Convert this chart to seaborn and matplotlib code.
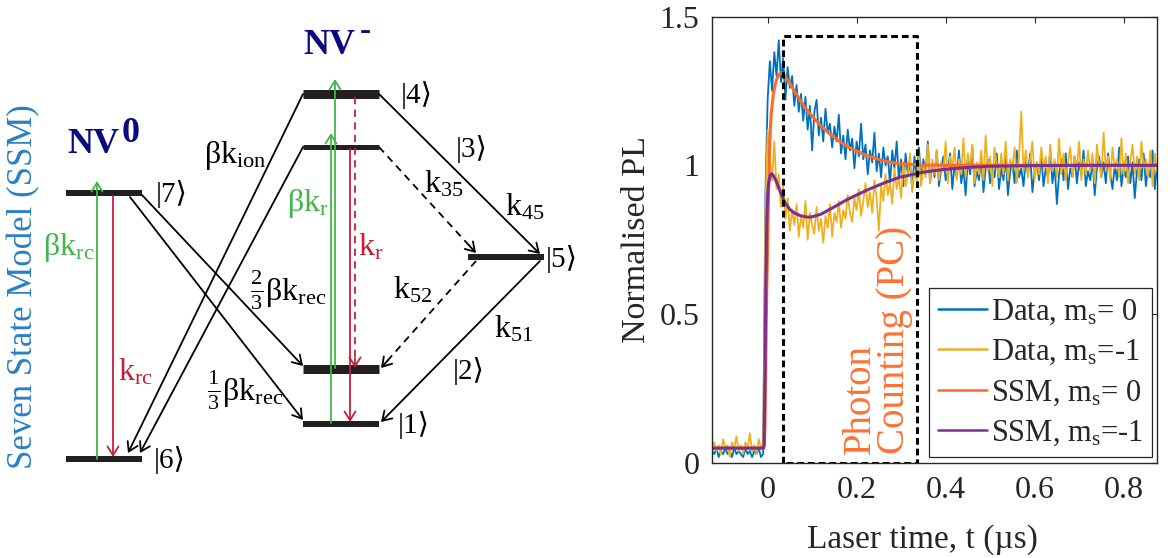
import numpy as np
import pandas as pd
import matplotlib
matplotlib.use("Agg")
import matplotlib.pyplot as plt
import seaborn as sns

# ---------------------------------------------------------------- data
# measured PL traces (sampled every 5 ns from -0.125 us to 0.875 us)
t_start, t_end = -0.125, 0.875
pl_data_ms0 = [
    0.04, 0.03, 0.05, 0.02, 0.04, 0.03, 0.05, 0.03, 0.04, 0.02,
    0.05, 0.03, 0.04, 0.03, 0.02, 0.05, 0.03, 0.04, 0.02, 0.04,
    0.03, 0.05, 0.02, 0.03, 0.90, 1.22, 1.35, 1.25, 1.38, 1.30,
    1.42, 1.28, 1.36, 1.22, 1.33, 1.26, 1.30, 1.20, 1.27, 1.18,
    1.24, 1.15, 1.23, 1.12, 1.20, 1.05, 1.18, 1.22, 1.10, 1.16,
    1.08, 1.19, 1.11, 1.14, 1.06, 1.13, 1.08, 1.17, 1.04, 1.10,
    1.02, 1.12, 1.05, 1.09, 0.99, 1.08, 1.03, 1.14, 1.02, 1.07,
    0.97, 1.05, 1.01, 1.11, 0.98, 1.04, 0.96, 1.06, 1.00, 1.03,
    0.94, 1.05, 0.99, 1.08, 0.95, 1.02, 0.93, 1.04, 0.97, 1.01,
    0.92, 1.03, 0.96, 1.06, 0.95, 1.02, 0.97, 1.08, 0.94, 1.01,
    0.96, 1.05, 0.93, 0.99, 1.03, 0.95, 0.98, 1.04, 0.92, 1.00,
    0.96, 1.05, 0.94, 0.99, 0.90, 1.02, 0.97, 1.06, 0.93, 0.98,
    0.95, 1.03, 0.91, 0.99, 1.02, 0.94, 1.00, 0.96, 1.04, 0.92,
    0.99, 0.95, 1.03, 0.90, 0.98, 1.01, 0.94, 1.05, 0.96, 0.99,
    0.93, 1.02, 0.97, 1.04, 0.91, 0.98, 1.01, 0.95, 1.03, 0.93,
    0.99, 0.96, 1.05, 0.94, 1.00, 0.87, 0.97, 1.02, 0.95, 1.04,
    0.92, 0.99, 0.96, 1.03, 0.94, 1.01, 0.97, 1.05, 0.93, 0.98,
    0.95, 1.02, 0.90, 0.99, 1.03, 0.96, 1.01, 0.94, 1.04, 0.97,
    0.92, 1.00, 0.95, 1.06, 0.93, 0.99, 0.96, 1.03, 0.94, 1.01,
    0.89, 0.98, 1.02, 0.95, 1.04, 0.93, 0.99, 0.96, 1.05, 0.92,
    1.00,
]
pl_data_ms1 = [
    0.05, 0.07, 0.04, 0.06, 0.03, 0.08, 0.05, 0.06, 0.02, 0.07,
    0.05, 0.09, 0.04, 0.06, 0.03, 0.07, 0.05, 0.10, 0.04, 0.06,
    0.03, 0.08, 0.05, 0.06, 0.85, 1.12, 1.02, 0.95, 1.08, 0.92,
    0.97, 0.86, 0.93, 0.82, 0.89, 0.78, 0.85, 0.80, 0.87, 0.76,
    0.83, 0.79, 0.88, 0.75, 0.84, 0.80, 0.77, 0.86, 0.78, 0.82,
    0.74, 0.83, 0.79, 0.87, 0.76, 0.84, 0.81, 0.88, 0.79, 0.85,
    0.82, 0.90, 0.84, 0.81, 0.89, 0.85, 0.92, 0.83, 0.88, 0.94,
    0.86, 0.91, 0.84, 0.95, 0.89, 0.78, 0.93, 0.88, 0.97, 0.90,
    0.94, 0.87, 0.99, 0.92, 0.96, 0.89, 1.01, 0.93, 0.97, 1.04,
    0.91, 0.98, 0.95, 1.03, 0.93, 1.00, 0.96, 1.07, 0.94, 1.02,
    0.97, 1.05, 0.95, 1.01, 0.98, 1.08, 0.94, 1.03, 0.99, 1.06,
    0.95, 1.02, 0.97, 1.09, 0.96, 1.04, 0.99, 1.07, 0.94, 1.01,
    0.97, 1.05, 0.95, 1.10, 0.98, 1.03, 0.93, 1.06, 1.00, 0.96,
    1.04, 0.97, 1.08, 0.95, 1.02, 0.99, 1.06, 0.94, 1.03, 1.18,
    0.98, 1.05, 0.96, 1.02, 1.08, 0.95, 1.01, 0.97, 1.06, 0.99,
    1.03, 0.94, 1.07, 0.98, 1.02, 0.96, 1.09, 0.97, 1.04, 0.95,
    1.01, 1.06, 0.96, 1.03, 0.99, 1.08, 0.95, 1.02, 0.97, 1.05,
    0.98, 1.04, 0.94, 1.07, 1.00, 0.96, 1.11, 0.98, 1.03, 0.95,
    1.06, 0.99, 1.02, 0.96, 1.09, 0.97, 1.04, 0.94, 1.01, 1.07,
    0.97, 1.03, 0.95, 1.08, 0.99, 1.02, 0.96, 1.05, 0.93, 1.04,
    0.98,
]
# seven state model curves
t_ssm = [-0.125, -0.010, -0.008, -0.006, -0.004, -0.002, 0.000, 0.002, 0.004,
         0.006, 0.008, 0.010, 0.013, 0.016, 0.020, 0.025, 0.030, 0.035, 0.040,
         0.050, 0.060, 0.075, 0.090, 0.100, 0.120, 0.147, 0.180, 0.222, 0.260,
         0.297, 0.350, 0.394, 0.450, 0.500, 0.600, 0.700, 0.875]
pl_ssm_ms0 = [0.05, 0.05, 0.05, 0.12, 0.35, 0.58, 0.72, 0.90, 1.04,
              1.12, 1.17, 1.20, 1.24, 1.265, 1.288, 1.305, 1.312, 1.308, 1.298,
              1.275, 1.250, 1.214, 1.183, 1.165, 1.132, 1.096, 1.062, 1.033, 1.015,
              1.005, 1.001, 1.000, 1.000, 1.000, 1.000, 1.000, 1.000]
pl_ssm_ms1 = [0.05, 0.05, 0.06, 0.30, 0.60, 0.80, 0.90, 0.935, 0.955,
              0.967, 0.972, 0.971, 0.965, 0.957, 0.944, 0.925, 0.905, 0.888, 0.872,
              0.852, 0.840, 0.830, 0.826, 0.827, 0.836, 0.858, 0.886, 0.916, 0.940,
              0.960, 0.977, 0.986, 0.993, 0.997, 0.999, 1.000, 1.000]
series_labels = ["Data, m$_\\mathrm{s}$= 0", "Data, m$_\\mathrm{s}$=-1",
                 "SSM, m$_\\mathrm{s}$= 0", "SSM, m$_\\mathrm{s}$=-1"]
series_colors = ["#0072BD", "#EDB120", "#FF6A2B", "#7E2F8E"]
x_ticks = [0, 0.2, 0.4, 0.6, 0.8]
x_ticklabels = ["0", "0.2", "0.4", "0.6", "0.8"]
y_ticks = [0, 0.5, 1, 1.5]
y_ticklabels = ["0", "0.5", "1", "1.5"]
pc_window = [0.035, 0.335]
pc_top = 1.435

# energy-level diagram (coordinates in pixels of the left panel)
level_names = ["|1⟩", "|2⟩", "|3⟩", "|4⟩", "|5⟩", "|6⟩", "|7⟩"]
level_x0 = [303, 303, 303, 303, 468, 66, 66]
level_x1 = [379, 379, 379, 379, 544, 142, 142]
level_y = [424, 369, 147, 94, 257, 459, 193]
level_thick = [6, 9, 5, 9, 6, 6, 6]
level_label_xy = [(414, 425), (469, 371), (472, 149), (417, 95), (562, 259), (170, 460), (172, 194)]
# transitions: (x0, y0, x1, y1, colour key, dashed)
transitions = [
    (97, 459, 97, 181, "g", False),
    (113, 196, 113, 457, "r", False),
    (331, 423, 331, 133, "g", False),
    (335, 368, 335, 79, "g", False),
    (350, 149, 350, 422, "r", False),
    (355, 97, 355, 368, "r", True),
    (303, 94, 128, 453, "k", False),
    (303, 147, 140, 453, "k", False),
    (142, 195, 303, 366, "k", False),
    (130, 197, 303, 420, "k", False),
    (379, 94, 540, 254, "k", False),
    (379, 147, 476, 253, "k", True),
    (476, 261, 381, 368, "k", True),
    (540, 261, 381, 422, "k", False),
]
rate_labels = [
    (69, 247, "$\\mathrm{βk_{rc}}$", "g"),
    (135, 372, "$\\mathrm{k_{rc}}$", "r"),
    (308, 204, "$\\mathrm{βk_{r}}$", "g"),
    (371, 247, "$\\mathrm{k_{r}}$", "r"),
    (235, 155, "$\\mathrm{βk_{ion}}$", "k"),
    (288, 290, "$\\frac{2}{3}\\mathrm{βk_{rec}}$", "k"),
    (245, 390, "$\\frac{1}{3}\\mathrm{βk_{rec}}$", "k"),
    (444, 184, "$\\mathrm{k_{35}}$", "k"),
    (525, 207, "$\\mathrm{k_{45}}$", "k"),
    (413, 290, "$\\mathrm{k_{52}}$", "k"),
    (514, 329, "$\\mathrm{k_{51}}$", "k"),
]
# charge-state titles: (text, x_left, baseline, superscript, sup_x, sup_baseline)
charge_titles = [("NV", 67, 153, "0", 122, 142), ("NV", 303, 54, "-", 360, 40)]

# ---------------------------------------------------------------- style
sns.set_theme(style="white")
plt.rcParams["font.family"] = ["Liberation Serif", "DejaVu Sans"]
plt.rcParams["mathtext.fontset"] = "custom"
plt.rcParams["mathtext.rm"] = "Liberation Serif"
plt.rcParams["mathtext.it"] = "Liberation Serif:italic"
plt.rcParams["mathtext.bf"] = "Liberation Serif:bold"

W, H = 1171, 558
fig = plt.figure(figsize=(W / 100, H / 100), dpi=100)
fig.patch.set_facecolor("white")

# ---------------------------------------------------------------- left: diagram
axd = fig.add_axes([0, 0, 600 / W, 1])
axd.set_xlim(0, 600)
axd.set_ylim(H, 0)
axd.axis("off")
cmap = {"g": "#41b649", "r": "#c61f38", "k": "black"}

for x0, x1, y, th in zip(level_x0, level_x1, level_y, level_thick):
    axd.plot([x0, x1], [y, y], color="#231f20", lw=th * 0.72, solid_capstyle="butt", zorder=3)
for name, (lx, ly) in zip(level_names, level_label_xy):
    axd.text(lx, ly, name, fontsize=21, ha="center", va="center", color="black")

head = "->,head_length=0.32,head_width=0.2"
for x0, y0, x1, y1, c, dashed in transitions:
    col = cmap[c]
    if dashed:
        L = np.hypot(x1 - x0, y1 - y0)
        ux, uy = (x1 - x0) / L, (y1 - y0) / L
        axd.plot([x0, x1 - ux * 3], [y0, y1 - uy * 3], color=col, lw=1.3, ls=(0, (4, 3)), zorder=4)
        axd.annotate("", xy=(x1, y1), xytext=(x1 - ux * 10, y1 - uy * 10),
                     arrowprops=dict(arrowstyle=head, color=col, lw=1.3,
                                     mutation_scale=20, shrinkA=0, shrinkB=0), zorder=4)
    else:
        axd.annotate("", xy=(x1, y1), xytext=(x0, y0),
                     arrowprops=dict(arrowstyle=head, color=col, lw=1.3,
                                     mutation_scale=20, shrinkA=0, shrinkB=0), zorder=4)

for lx, ly, txt, c in rate_labels:
    axd.text(lx, ly, txt, fontsize=23, ha="center", va="center", color=cmap[c])

navy = "#0a0a80"
for txt, tx, tb, sup, sx, sb in charge_titles:
    axd.text(tx, tb, txt, fontsize=26, fontweight="bold", color=navy,
             ha="left", va="baseline")
    axd.text(sx, sb, sup, fontsize=26 if sup == "0" else 24, fontweight="bold", color=navy,
             ha="left", va="baseline")
axd.text(24, 287, "Seven State Model (SSM)", fontsize=25, rotation=90, color="#2a80c6",
         ha="center", va="center")

# ---------------------------------------------------------------- right: PL traces
ax = fig.add_axes([712 / W, 1 - 463 / H, 445 / W, 446.5 / H])
n = len(pl_data_ms0)
t_data = np.round(np.linspace(t_start, t_end, n), 4)
df = pd.DataFrame({"t": t_data, "ms0": pl_data_ms0, "ms1": pl_data_ms1})
dm = pd.DataFrame({"t": t_ssm, "ms0": pl_ssm_ms0, "ms1": pl_ssm_ms1})

sns.lineplot(data=df, x="t", y="ms0", ax=ax, color=series_colors[0], lw=1.3,
             estimator=None, label=series_labels[0])
sns.lineplot(data=df, x="t", y="ms1", ax=ax, color=series_colors[1], lw=1.3,
             estimator=None, label=series_labels[1])
sns.lineplot(data=dm, x="t", y="ms0", ax=ax, color=series_colors[2], lw=2.2,
             estimator=None, label=series_labels[2])
sns.lineplot(data=dm, x="t", y="ms1", ax=ax, color=series_colors[3], lw=2.2,
             estimator=None, label=series_labels[3])

# photon counting window
ax.plot([pc_window[0], pc_window[0], pc_window[1], pc_window[1], pc_window[0]],
        [0, pc_top, pc_top, 0, 0], color="black", lw=2.2, ls=(0, (2.2, 1.3)), zorder=5)
ax.text(0.247, 0.03, "Photon\nCounting (PC)", rotation=90, ha="center", va="bottom",
        multialignment="left", fontsize=28, color="#FF7033", linespacing=0.92, zorder=6)

ax.set_xlim(-0.125, 0.875)
ax.set_ylim(0, 1.5)
ax.set_xticks(x_ticks)
ax.set_xticklabels(x_ticklabels)
ax.set_yticks(y_ticks)
ax.set_yticklabels(y_ticklabels)
dark = "#262626"
ax.tick_params(direction="in", length=4, width=0.8, top=True, right=True,
               labelsize=23, colors=dark, pad=9)
for s in ax.spines.values():
    s.set_visible(True)
    s.set_color(dark)
    s.set_linewidth(1.0)
ax.set_xlabel("Laser time, t (µs)", fontsize=24, color=dark, va="center")
ax.set_ylabel("Normalised PL", fontsize=24.5, color=dark, va="center")
ax.xaxis.set_label_coords(0.473, (463 - 540) / 446.5)
ax.yaxis.set_label_coords((637 - 712) / 445, 0.5)

leg = ax.legend(loc="lower right", bbox_to_anchor=(0.989, 0.013), fontsize=22,
                frameon=True, fancybox=False, framealpha=1, edgecolor=dark,
                borderpad=0.3, handlelength=1.6, handletextpad=0.12,
                labelspacing=0.36, borderaxespad=0)
leg.get_frame().set_linewidth(0.9)
for line in leg.get_lines():
    line.set_linewidth(1.8)

fig.savefig("out.png", dpi=100, facecolor="white")
